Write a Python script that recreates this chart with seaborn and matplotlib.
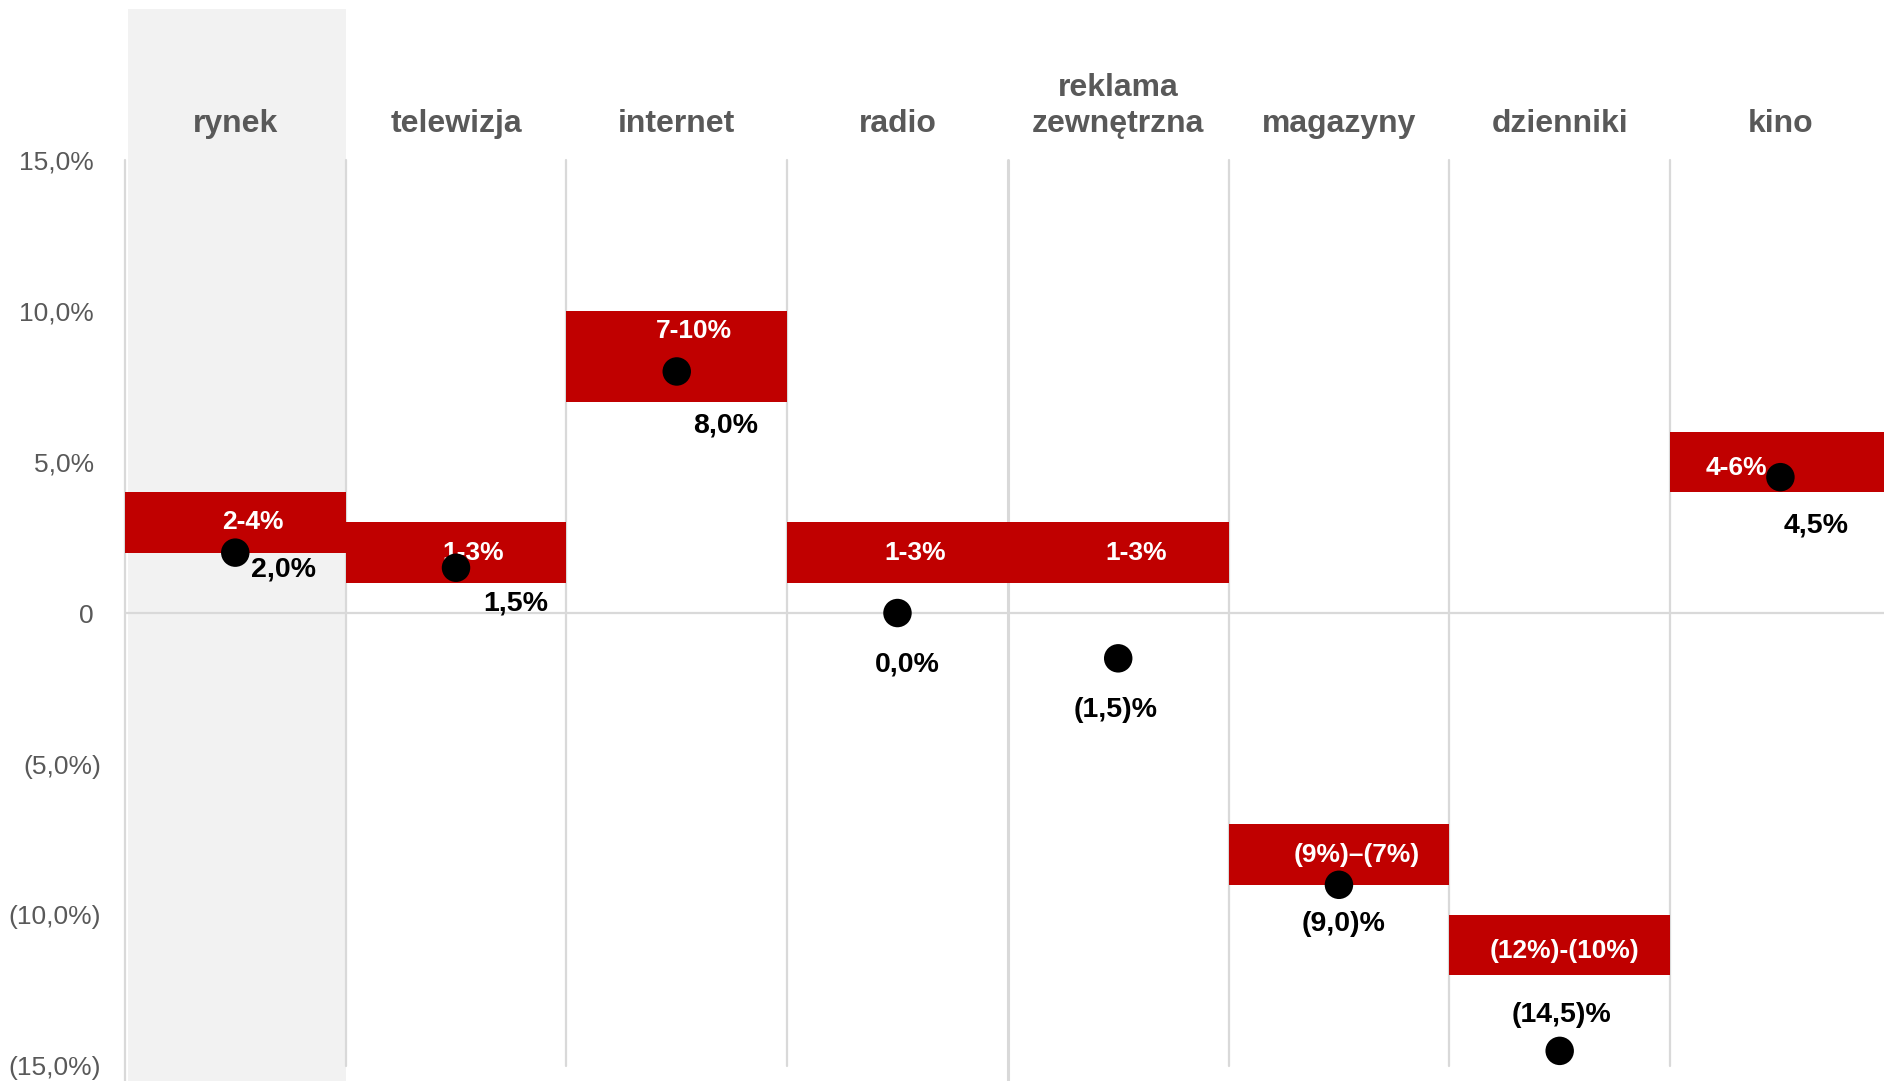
import matplotlib
matplotlib.use("Agg")
import matplotlib.pyplot as plt
from matplotlib.patches import Rectangle
import seaborn as sns
import pandas as pd

# =========================
# DATA
# =========================

categories = ["rynek", "telewizja", "internet", "radio", "reklama\nzewnętrzna",
              "magazyny", "dzienniki", "kino"]
range_low = [2, 1, 7, 1, 1, -9, -12, 4]
range_high = [4, 3, 10, 3, 3, -7, -10, 6]
forecast = [2.0, 1.5, 8.0, 0.0, -1.5, -9.0, -14.5, 4.5]
range_labels = ["2-4%", "1-3%", "7-10%", "1-3%", "1-3%", "(9%)–(7%)", "(12%)-(10%)", "4-6%"]
point_labels = ["2,0%", "1,5%", "8,0%", "0,0%", "(1,5)%", "(9,0)%", "(14,5)%", "4,5%"]
y_ticks = [15, 10, 5, 0, -5, -10, -15]
# accounting style: positives padded where negatives carry ")"
y_tick_labels = ["15,0% ", "10,0% ", "5,0% ", "0 ", "(5,0%)", "(10,0%)", "(15,0%)"]

# label placement (layout only)
range_dx = [0.08, 0.08, 0.08, 0.08, 0.08, 0.08, 0.02, -0.2]
range_dy = [0, 0, 0.83, 0, 0, 0, -0.2, -0.2]
point_dx = [0.22, 0.27, 0.22, 0.045, -0.01, 0.02, 0.01, 0.16]
point_dy = [-0.57, -1.2, -1.8, -1.7, -1.7, -1.3, 1.2, -1.6]

RED = "#C00000"
GRID = "#D9D9D9"
TXT = "#595959"

sns.set_theme(style="white")
plt.rcParams["font.family"] = ["Liberation Sans", "DejaVu Sans"]

df = pd.DataFrame({"cat": categories, "low": range_low, "high": range_high,
                   "point": forecast})
df["x"] = range(len(df))

fig = plt.figure(figsize=(18.84, 10.81), dpi=100)
ax = fig.add_axes([0.0663, 0.0139, 0.9373, 0.8380])

# grey highlight for the market column
ax.add_patch(Rectangle((-0.485, -15.5), 0.985, 35.5, facecolor="#F2F2F2",
                       edgecolor="none", zorder=0, clip_on=False))

# column separators
for b in range(len(df)):
    xb = b - 0.5
    ymin = -15.5 if b in (0, 4) else -15
    ax.plot([xb, xb], [ymin, 15], color=GRID, lw=1.6 if b != 4 else 2.2,
            zorder=1, clip_on=False)
ax.axhline(0, color=GRID, lw=1.6, zorder=1)

# range bars
ax.bar(df["x"], df["high"] - df["low"], bottom=df["low"], width=1.0,
       color=RED, edgecolor="none", zorder=2)

# forecast points
sns.scatterplot(data=df, x="x", y="point", s=420, color="black",
                edgecolor="none", zorder=4, ax=ax, legend=False)

for i in range(len(df)):
    mid = (range_low[i] + range_high[i]) / 2
    ax.text(i + range_dx[i], mid + range_dy[i], range_labels[i], color="white",
            fontsize=19, fontweight="bold", ha="center", va="center", zorder=3)
    ax.text(i + point_dx[i], forecast[i] + point_dy[i], point_labels[i],
            color="black", fontsize=20.5, fontweight="bold", ha="center",
            va="center", zorder=5)
    ax.text(i, 15.7, categories[i], color=TXT, fontsize=23, fontweight="bold",
            ha="center", va="bottom", linespacing=1.25, clip_on=False)

ax.set_xlim(-0.5, 7.5)
ax.set_ylim(-15, 15)
ax.set_xticks([])
ax.set_yticks(y_ticks)
ax.set_yticklabels(y_tick_labels, color=TXT, fontsize=19)
ax.tick_params(axis="y", length=0, pad=17)
ax.set_xlabel("")
ax.set_ylabel("")
for s in ax.spines.values():
    s.set_visible(False)

fig.savefig("out.png", dpi=100, facecolor="white")
